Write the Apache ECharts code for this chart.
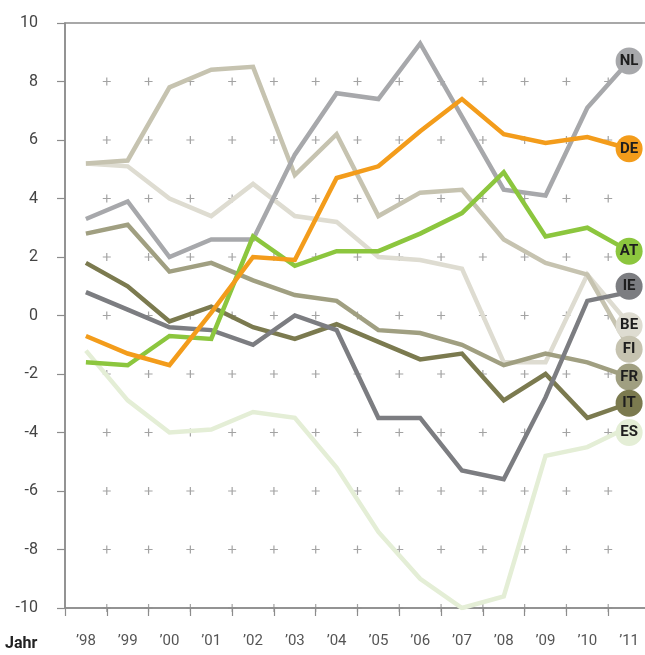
<!DOCTYPE html>
<html>
<head>
<meta charset="utf-8">
<script src="https://cdn.jsdelivr.net/npm/echarts@6/dist/echarts.min.js"></script>
<style>
html,body{margin:0;padding:0;background:#fff;overflow:hidden;width:645px;height:655px;}
#chart{width:660px;height:655px;}
</style>
</head>
<body>
<div id="chart"></div>
<script>
// ---- data ----
var years = ['\u201998','\u201999','\u201900','\u201901','\u201902','\u201903','\u201904','\u201905','\u201906','\u201907','\u201908','\u201909','\u201910','\u201911'];
var yTicks = [-10,-8,-6,-4,-2,0,2,4,6,8,10];
var NL = [3.3, 3.9, 2.0, 2.6, 2.6, 5.5, 7.6, 7.4, 9.3, 6.8, 4.3, 4.1, 7.1, 8.7];
var DE = [-0.7, -1.3, -1.7, 0.1, 2.0, 1.9, 4.7, 5.1, 6.3, 7.4, 6.2, 5.9, 6.1, 5.7];
var AT = [-1.6, -1.7, -0.7, -0.8, 2.7, 1.7, 2.2, 2.2, 2.8, 3.5, 4.9, 2.7, 3.0, 2.2];
var IE = [0.8, 0.2, -0.4, -0.5, -1.0, 0.0, -0.5, -3.5, -3.5, -5.3, -5.6, -2.8, 0.5, 0.8];
var BE = [5.2, 5.1, 4.0, 3.4, 4.5, 3.4, 3.2, 2.0, 1.9, 1.6, -1.6, -1.6, 1.4, -0.3];
var FI = [5.2, 5.3, 7.8, 8.4, 8.5, 4.8, 6.2, 3.4, 4.2, 4.3, 2.6, 1.8, 1.4, -1.1];
var FR = [2.8, 3.1, 1.5, 1.8, 1.2, 0.7, 0.5, -0.5, -0.6, -1.0, -1.7, -1.3, -1.6, -2.1];
var IT = [1.8, 1.0, -0.2, 0.3, -0.4, -0.8, -0.3, -0.9, -1.5, -1.3, -2.9, -2.0, -3.5, -3.0];
var ES = [-1.2, -2.9, -4.0, -3.9, -3.3, -3.5, -5.2, -7.4, -9.0, -10.0, -9.6, -4.8, -4.5, -3.8];
var countries = ['ES','BE','FI','FR','IT','IE','NL','AT','DE'];
var values = {NL:NL, DE:DE, AT:AT, IE:IE, BE:BE, FI:FI, FR:FR, IT:IT, ES:ES};
// badge (end label) positions, in axis units
var badgeY = {NL:8.7, DE:5.7, AT:2.2, IE:1.0, BE:-0.35, FI:-1.15, FR:-2.1, IT:-3.0, ES:-4.0};

// ---- styles ----
var colors = {NL:'#a7a8ab', DE:'#f39c1b', AT:'#8cc63e', IE:'#7c7d81', BE:'#dedcd1', FI:'#c6c3b0', FR:'#a09f81', IT:'#7b7a4f', ES:'#e4eed6'};
var axisColor = '#8c8c8c';
var FONT = 'Roboto, "Noto Sans", sans-serif';

var plusPath = 'path://M3.4,0H4.6V8H3.4ZM0,3.4H8V4.6H0Z';
var plusData = [];
for (var k = 1; k < years.length; k++) {
  for (var j = 0; j < yTicks.length - 1; j++) {
    plusData.push([k, yTicks[j]]);
  }
}

var series = [{
  type: 'scatter', xAxisIndex: 1, yAxisIndex: 0, data: plusData,
  symbol: plusPath, symbolSize: 8, silent: true, z: 1, clip: false,
  itemStyle: {color: axisColor}
}];
countries.forEach(function (c, i) {
  series.push({
    name: c, type: 'line', data: values[c], symbol: 'none', z: 2 + i,
    lineStyle: {color: colors[c], width: 4.5, join: 'miter'}
  });
});
countries.forEach(function (c) {
  series.push({
    name: c, type: 'scatter', z: 20,
    data: [[years[years.length - 1], badgeY[c]]],
    symbol: 'circle', symbolSize: 27,
    itemStyle: {color: colors[c], opacity: 1},
    label: {show: true, position: 'inside', formatter: c, fontFamily: FONT, fontWeight: 'bold', fontSize: 15, color: '#1e1e1e'}
  });
});

var chart = echarts.init(document.getElementById('chart'), null, {renderer: 'canvas', width: 660, height: 655});
chart.setOption({
  animation: false,
  backgroundColor: '#ffffff',
  grid: {left: 65, top: 23, width: 585, height: 585, show: true, borderColor: axisColor, borderWidth: 1.5, backgroundColor: 'transparent'},
  xAxis: [{
    type: 'category', data: years, boundaryGap: true,
    axisLine: {show: true, onZero: false, lineStyle: {color: axisColor, width: 1.5}},
    axisTick: {show: true, interval: 0, length: 8, lineStyle: {color: axisColor, width: 1.2}},
    axisLabel: {interval: 0, margin: 26, color: '#555', fontSize: 15, fontFamily: FONT},
    splitLine: {show: false}
  }, {
    type: 'value', min: 0, max: years.length, show: false
  }],
  yAxis: {
    type: 'value', min: -10, max: 10, interval: 2,
    axisLine: {show: true, onZero: false, lineStyle: {color: axisColor, width: 1.5}},
    axisTick: {show: true, length: 8, lineStyle: {color: axisColor, width: 1.2}},
    axisLabel: {margin: 27, color: '#444', fontSize: 16, fontFamily: FONT},
    splitLine: {show: false}
  },
  graphic: [{
    type: 'text', left: 5, top: 636,
    style: {text: 'Jahr', fill: '#222', font: 'bold 16px ' + FONT}
  }],
  series: series
});
</script>
</body>
</html>
